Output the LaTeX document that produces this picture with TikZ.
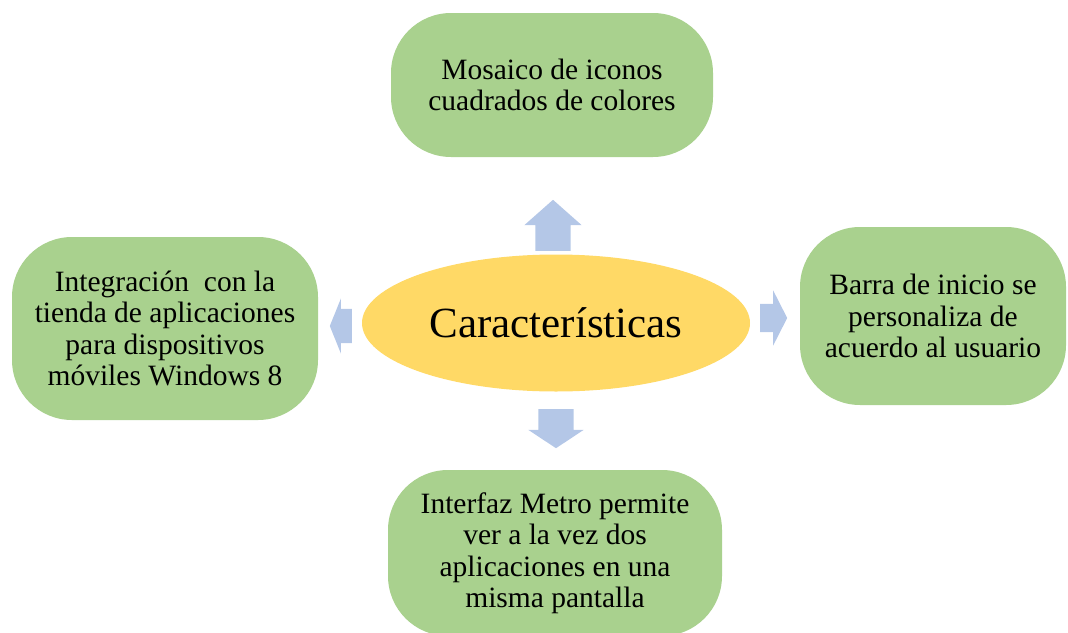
\documentclass[tikz,border=0pt]{standalone}
\usepackage{fontspec}
\setmainfont{Liberation Serif}
\usetikzlibrary{shapes.geometric, shapes.arrows}
\definecolor{boxgreen}{HTML}{A9D18E}
\definecolor{midyellow}{HTML}{FFD966}
\definecolor{arrowblue}{HTML}{B4C7E7}

\begin{document}
\begin{tikzpicture}[x=1pt, y=-1pt,
  feature/.style={rectangle, rounded corners=60pt, fill=boxgreen, inner sep=0pt, align=center, font=\fontsize{29.5}{31.5}\selectfont},
  center/.style={ellipse, fill=midyellow, inner sep=0pt, minimum width=388pt, minimum height=137pt, font=\fontsize{43}{48}\selectfont},
  blockarrow/.style={single arrow, fill=arrowblue, inner xsep=0pt, single arrow head indent=0pt, anchor=tail}]
\useasboundingbox (0,0) rectangle (1068,632);
%centre
\node[center] (carac) at (556,323) {Características};
%boxes
\node[feature, minimum width=322pt, minimum height=144pt] (mosaico) at (552,85) {Mosaico de iconos\\cuadrados de colores};
\node[feature, minimum width=306pt, minimum height=183pt] (tienda) at (165,328.5) {Integración~ con la\\tienda de aplicaciones\\para dispositivos\\móviles Windows 8};
\node[feature, minimum width=266pt, minimum height=178pt] (barra) at (933,316) {Barra de inicio se\\personaliza de\\acuerdo al usuario};
\node[feature, minimum width=334pt, minimum height=166pt] (metro) at (555,553) {Interfaz Metro permite\\ver a la vez dos\\aplicaciones en una\\misma pantalla};
%arrows (placed by their tails)
\node[blockarrow, rotate=90, inner ysep=17.5pt, minimum height=51pt, single arrow head extend=11pt, single arrow tip angle=97] (up) at (553,251) {};
\node[blockarrow, rotate=-90, inner ysep=17.5pt, minimum height=39pt, single arrow head extend=10pt, single arrow tip angle=113] (down) at (556,409) {};
\node[blockarrow, rotate=180, inner ysep=17pt, minimum height=22pt, single arrow head extend=10.5pt, single arrow tip angle=136] (left) at (352,326) {};
\node[blockarrow, inner ysep=14pt, minimum height=27pt, single arrow head extend=13.5pt, single arrow tip angle=126] (right) at (760,318) {};
\end{tikzpicture}
\end{document}
